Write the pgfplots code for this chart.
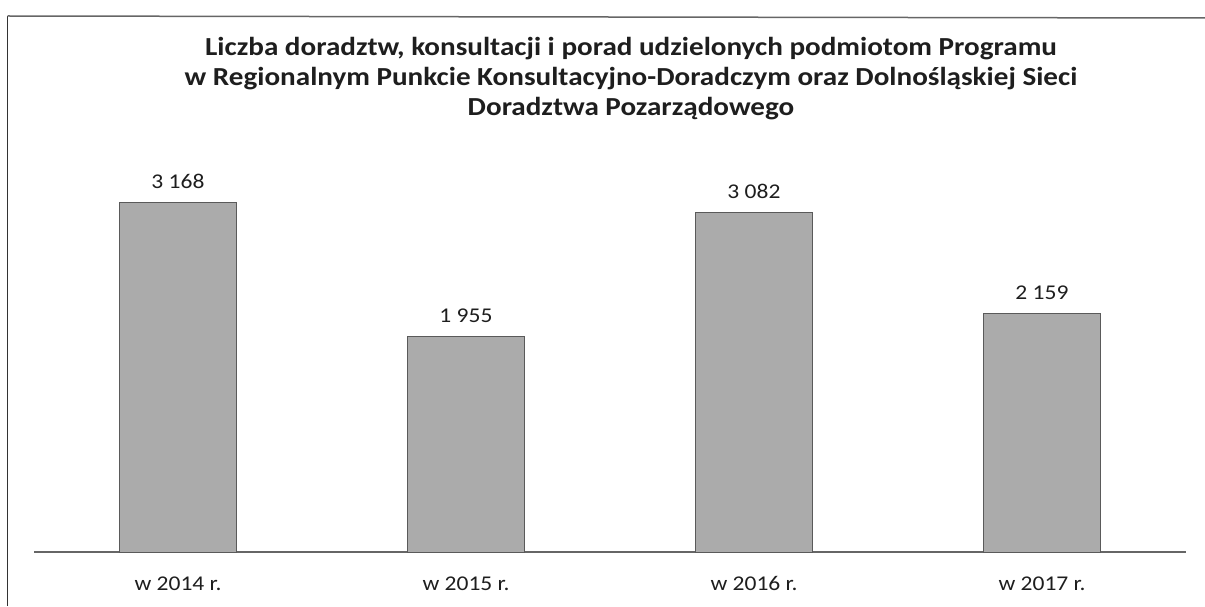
\documentclass[border=0pt]{standalone}
\usepackage{pgfplots}
\pgfplotsset{compat=1.18}
\usepackage{fontspec}
\setmainfont{Carlito}[FakeStretch=1.12]
\definecolor{barfill}{HTML}{ABABAB}
\definecolor{baredge}{HTML}{5A5A5A}
\definecolor{txt}{HTML}{1E1E1E}
\begin{document}
\begin{tikzpicture}[x=1pt,y=1pt]
\useasboundingbox (0,0) rectangle (1205,606);
\draw[black!80, line width=1.5pt] (7.5,0) -- (7.5,590);
\draw[black!60, line width=1.5pt] (7.5,590) -- (1205,588);
\begin{scope}[every node/.style={font=\fontsize{26}{31}\selectfont\bfseries, text=txt, anchor=base}]
\node at (631,550) {Liczba doradztw, konsultacji i porad udzielonych podmiotom Programu};
\node at (631,520) {w Regionalnym Punkcie Konsultacyjno-Doradczym oraz Dolnośląskiej Sieci};
\node at (631,490) {Doradztwa Pozarządowego};
\end{scope}
\begin{axis}[
  at={(34pt,54pt)}, anchor=south west,
  scale only axis,
  width=1152pt, height=441pt,
  xmin=-0.5, xmax=3.5, ymin=0, ymax=4000,
  axis x line*=bottom, axis y line=none,
  x axis line style={black!60, line width=1.3pt, -},
  xtick={0,1,2,3},
  xticklabels={w 2014 r., w 2015 r., w 2016 r., w 2017 r.},
  major tick length=0pt,
  xticklabel style={font=\fontsize{21}{24}\selectfont, text=txt, anchor=base, yshift=-38pt},
  ybar, bar width=117pt,
  point meta=explicit symbolic,
  nodes near coords,
  every node near coord/.append style={font=\fontsize{21}{24}\selectfont, text=txt, anchor=base, yshift=14pt},
  clip=false,
]
\addplot[fill=barfill, draw=baredge, line width=1pt] coordinates {
  (0,3168) [3 168]
  (1,1955) [1 955]
  (2,3082) [3 082]
  (3,2159) [2 159]
};
\end{axis}
\end{tikzpicture}
\end{document}
